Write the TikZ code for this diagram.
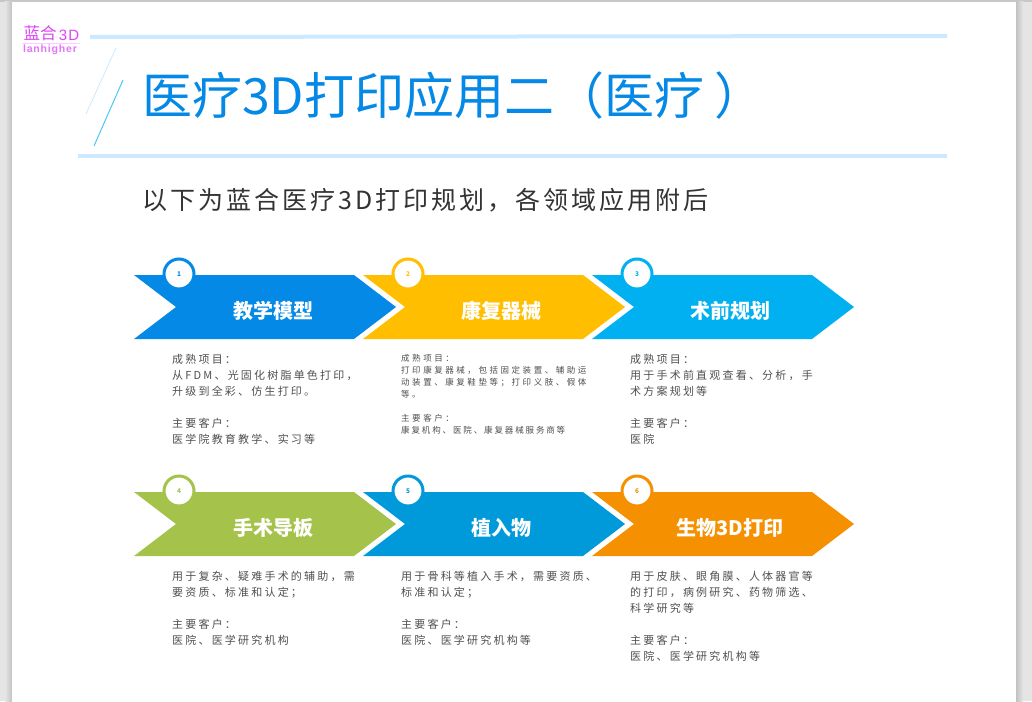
\documentclass[tikz,border=0pt]{standalone}
\usepackage{fontspec}
\setmainfont{Noto Sans CJK SC}
\newfontfamily\subfont[LetterSpace=12]{Noto Sans CJK SC}
\newfontfamily\bodyfont[LetterSpace=20]{Noto Sans CJK SC}
\newfontfamily\smallfont[LetterSpace=30]{Noto Sans CJK SC}
\newfontfamily\tightfont[LetterSpace=22]{Noto Sans CJK SC}
\newfontfamily\logofont[LetterSpace=8]{Liberation Sans}
\definecolor{rulelight}{HTML}{CCE9FF}
\definecolor{titleblue}{HTML}{0489E6}
\definecolor{ambera}{HTML}{FFBF00}
\definecolor{skya}{HTML}{00B0F0}
\definecolor{greena}{HTML}{A5C34B}
\definecolor{oceana}{HTML}{0099D9}
\definecolor{orangea}{HTML}{F59100}
\definecolor{logopink}{HTML}{DD44F5}
\definecolor{bodygray}{HTML}{505050}
\tikzset{
  headtext/.style={text=white, font=\fontsize{20}{20}\selectfont\bfseries, inner sep=0pt},
  stepmark/.style={circle, fill=white, line width=3pt, minimum size=30pt, inner sep=0pt, font=\fontsize{6.5}{6.5}\selectfont\bfseries},
  bodytext/.style={anchor=north west, align=left, inner sep=0pt, text=bodygray, font=\bodyfont\fontsize{11}{16}\selectfont},
  smalltext/.style={anchor=north west, align=left, inner sep=0pt, text=bodygray, font=\smallfont\fontsize{8.5}{12}\selectfont}
}
\begin{document}
\begin{tikzpicture}[x=1pt,y=-1pt]
  \useasboundingbox (0,0) rectangle (1032,701);
  % page and its shadow
  \fill[black!10] (0,0) rectangle (1032,701);
  \fill[black!22] (0,0) rectangle (1032,2);
  \shade[left color=black!10, right color=black!24] (5,2) rectangle (12,701);
  \shade[left color=black!24, right color=black!10] (1016,2) rectangle (1023,701);
  \fill[white] (12,2) rectangle (1016,701);
  % logo
  \node[inner sep=0pt, text=logopink, font=\fontsize{16.5}{16.5}\selectfont] (logocn) at (40,33) {蓝合};
  \node[inner sep=0pt, text=logopink, font=\logofont\fontsize{15}{15}\selectfont] (logo3d) at (69,35) {3D};
  \draw[logopink!25, line width=0.5pt] (22,43) -- (80,43);
  \node[inner sep=0pt, text=logopink!75, font=\logofont\bfseries\fontsize{10.5}{10.5}\selectfont] (logoen) at (50,50) {lanhigher};
  % head rules
  \draw[rulelight, line width=4pt] (90,37) -- (947,36);
  \draw[rulelight, line width=4pt] (78,156) -- (947,156);
  \draw[rulelight, line width=0.8pt] (116,48) -- (86,114);
  \draw[skya!70, line width=1pt] (123,80) -- (94,146);
  \node[anchor=west, inner sep=0pt, text=titleblue, font=\fontsize{50}{50}\selectfont] (title) at (142,95) {医疗3D打印应用二（医疗\hspace{10pt}）};
  \node[anchor=west, inner sep=0pt, text=black!80, font=\subfont\fontsize{25}{25}\selectfont] (subtitle) at (142,200) {以下为蓝合医疗3D打印规划，各领域应用附后};
  % first row
  \fill[titleblue] (134,275) -- (354,275) -- (396,307) -- (354,339) -- (134,339) -- (176,307) -- cycle;
  \fill[ambera] (363,275) -- (583,275) -- (625,307) -- (583,339) -- (363,339) -- (405,307) -- cycle;
  \fill[skya] (592,275) -- (812,275) -- (854,307) -- (812,339) -- (592,339) -- (634,307) -- cycle;
  \node[stepmark, draw=titleblue, text=titleblue] (mark1) at (179,274) {1};
  \node[stepmark, draw=ambera, text=ambera] (mark2) at (408,274) {2};
  \node[stepmark, draw=skya, text=skya] (mark3) at (637,274) {3};
  \node[headtext] (head1) at (273,311) {教学模型};
  \node[headtext] (head2) at (501,311) {康复器械};
  \node[headtext] (head3) at (730,311) {术前规划};
  \node[bodytext] (text1) at (172,354) {成熟项目：\\从FDM、光固化树脂单色打印，\\升级到全彩、仿生打印。\\[16pt]主要客户：\\医学院教育教学、实习等};
  \node[smalltext] (text2) at (401,354) {成熟项目：\\打印康复器械，包括固定装置、辅助运\\动装置、康复鞋垫等；打印义肢、假体\\等。\\[12pt]主要客户：\\{\tightfont 康复机构、医院、康复器械服务商等}};
  \node[bodytext] (text3) at (630,354) {成熟项目：\\用于手术前直观查看、分析，手\\术方案规划等\\[16pt]主要客户：\\医院};
  % second row
  \fill[greena] (134,492) -- (354,492) -- (396,524) -- (354,556) -- (134,556) -- (176,524) -- cycle;
  \fill[oceana] (363,492) -- (583,492) -- (625,524) -- (583,556) -- (363,556) -- (405,524) -- cycle;
  \fill[orangea] (592,492) -- (812,492) -- (854,524) -- (812,556) -- (592,556) -- (634,524) -- cycle;
  \node[stepmark, draw=greena, text=greena] (mark4) at (179,491) {4};
  \node[stepmark, draw=oceana, text=oceana] (mark5) at (408,491) {5};
  \node[stepmark, draw=orangea, text=orangea] (mark6) at (637,491) {6};
  \node[headtext] (head4) at (273,528) {手术导板};
  \node[headtext] (head5) at (501,528) {植入物};
  \node[headtext] (head6) at (730,528) {生物3D打印};
  \node[bodytext] (text4) at (172,571) {用于复杂、疑难手术的辅助，需\\要资质、标准和认定；\\[16pt]主要客户：\\医院、医学研究机构};
  \node[bodytext] (text5) at (401,571) {用于骨科等植入手术，需要资质、\\标准和认定；\\[16pt]主要客户：\\医院、医学研究机构等};
  \node[bodytext] (text6) at (630,571) {用于皮肤、眼角膜、人体器官等\\的打印，病例研究、药物筛选、\\科学研究等\\[16pt]主要客户：\\医院、医学研究机构等};
\end{tikzpicture}
\end{document}
